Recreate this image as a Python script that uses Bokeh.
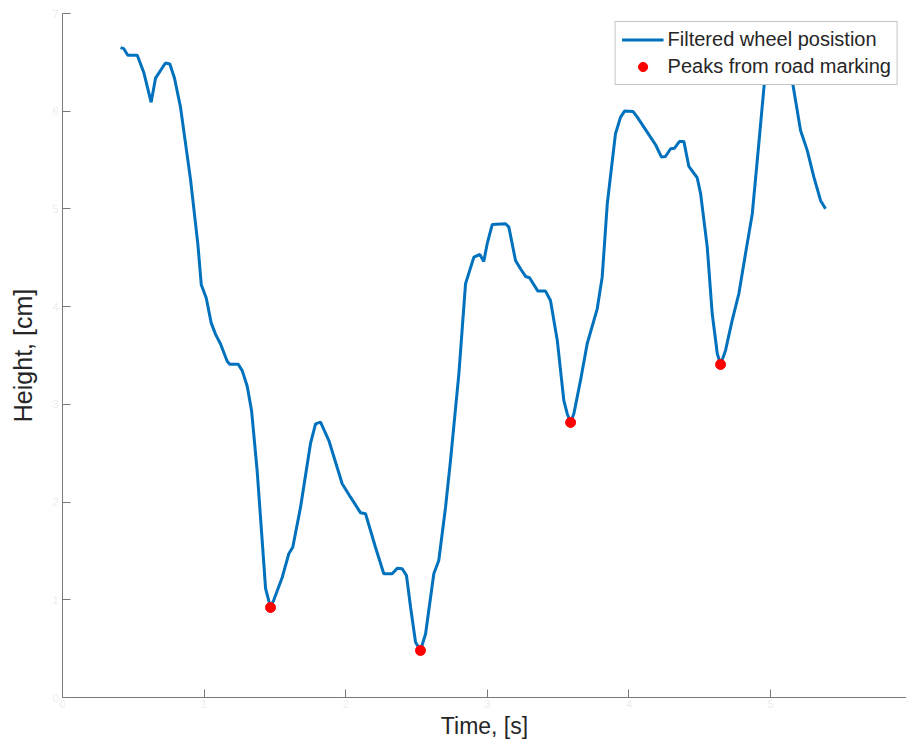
from bokeh.plotting import figure
from bokeh.models import Range1d, FixedTicker, Legend, LegendItem
from bokeh.embed import file_html
from bokeh.resources import INLINE

# Filtered wheel position over time
time_s = [0.410, 0.433, 0.461, 0.528, 0.574, 0.626, 0.657, 0.727, 0.758, 0.791,
          0.833, 0.904, 0.956, 0.980, 1.015, 1.050, 1.081, 1.116, 1.163, 1.181,
          1.241, 1.269, 1.304, 1.335, 1.375, 1.410, 1.434, 1.469, 1.492, 1.552,
          1.598, 1.626, 1.681, 1.751, 1.787, 1.822, 1.881, 1.975, 2.034, 2.105,
          2.140, 2.210, 2.269, 2.328, 2.364, 2.399, 2.429, 2.458, 2.493, 2.528,
          2.564, 2.622, 2.657, 2.705, 2.740, 2.799, 2.846, 2.905, 2.947, 2.975,
          2.999, 3.035, 3.129, 3.152, 3.199, 3.234, 3.270, 3.298, 3.357, 3.411,
          3.446, 3.494, 3.540, 3.564, 3.588, 3.611, 3.658, 3.705, 3.776, 3.811,
          3.847, 3.905, 3.941, 3.969, 4.028, 4.059, 4.129, 4.188, 4.230, 4.258,
          4.294, 4.322, 4.357, 4.388, 4.423, 4.482, 4.506, 4.553, 4.588, 4.624,
          4.647, 4.682, 4.729, 4.776, 4.823, 4.871, 4.917, 4.958, 5.000, 5.056,
          5.113, 5.153, 5.212, 5.259, 5.306, 5.353, 5.388]
height_cm = [6.651, 6.640, 6.573, 6.573, 6.397, 6.091, 6.338, 6.494, 6.483, 6.338,
             6.044, 5.302, 4.637, 4.225, 4.088, 3.834, 3.716, 3.618, 3.442, 3.411,
             3.411, 3.345, 3.188, 2.938, 2.313, 1.607, 1.116, 0.921, 0.997, 1.231,
             1.471, 1.538, 1.948, 2.597, 2.801, 2.818, 2.630, 2.187, 2.050, 1.890,
             1.880, 1.538, 1.266, 1.266, 1.323, 1.317, 1.249, 0.924, 0.566, 0.481,
             0.652, 1.266, 1.402, 1.948, 2.426, 3.313, 4.234, 4.507, 4.534, 4.463,
             4.644, 4.841, 4.848, 4.814, 4.473, 4.388, 4.309, 4.296, 4.159, 4.159,
             4.063, 3.654, 3.040, 2.904, 2.815, 2.904, 3.245, 3.620, 3.978, 4.302,
             5.053, 5.770, 5.940, 6.001, 5.998, 5.940, 5.786, 5.657, 5.530, 5.537,
             5.616, 5.622, 5.691, 5.691, 5.435, 5.319, 5.156, 4.609, 3.927, 3.518,
             3.408, 3.552, 3.859, 4.132, 4.541, 4.951, 5.667, 6.315, 6.622, 6.725,
             6.643, 6.315, 5.803, 5.599, 5.325, 5.087, 5.002]

# Peaks detected from the road marking
peak_time_s = [1.469, 2.528, 3.588, 4.647]
peak_height_cm = [0.921, 0.481, 2.815, 3.408]

x_ticks = [0, 1, 2, 3, 4, 5, 6]
y_ticks = [0, 1, 2, 3, 4, 5, 6, 7]

FONT = "Liberation Sans"
AXIS_GRAY = "#7a7a7a"

p = figure(width=906, height=743, output_backend="svg", toolbar_location=None,
           x_range=Range1d(0, 5.96), y_range=Range1d(0, 7),
           min_border_left=62, min_border_right=0, min_border_top=13,
           min_border_bottom=46)
p.outline_line_color = None
p.xgrid.visible = False
p.ygrid.visible = False
p.background_fill_color = "white"
p.border_fill_color = "white"

line_r = p.line(time_s, height_cm, line_color="#0072BD", line_width=3)
peak_r = p.scatter(peak_time_s, peak_height_cm, size=10, marker="circle",
                   fill_color="#ff0000", line_color="#ff0000")

for ax, ticks in ((p.xaxis, x_ticks), (p.yaxis, y_ticks)):
    ax.ticker = FixedTicker(ticks=ticks)
    ax.axis_line_color = AXIS_GRAY
    ax.major_tick_line_color = AXIS_GRAY
    ax.major_tick_in = 8
    ax.major_tick_out = 0
    ax.minor_tick_line_color = None
    ax.major_label_text_color = "#ededed"
    ax.major_label_text_font = FONT
    ax.major_label_text_font_size = "11px"
    ax.axis_label_text_font = FONT
    ax.axis_label_text_font_style = "normal"
    ax.axis_label_text_color = "#262626"

p.xaxis.axis_label = "Time, [s]"
p.yaxis.axis_label = "Height, [cm]"
p.xaxis.axis_label_text_font_size = "23px"
p.yaxis.axis_label_text_font_size = "25px"
p.xaxis.major_label_standoff = 2
p.xaxis.axis_label_standoff = 2
p.yaxis.major_label_standoff = 4
p.yaxis.axis_label_standoff = 12

legend = Legend(items=[
    LegendItem(label="Filtered wheel posistion", renderers=[line_r]),
    LegendItem(label="Peaks from road marking", renderers=[peak_r]),
], location="top_right")
legend.margin = 8
legend.padding = 6
legend.spacing = 4
legend.glyph_width = 42
legend.glyph_height = 23
legend.label_height = 23
legend.label_width = 200
legend.label_standoff = 4
legend.label_text_font = FONT
legend.label_text_font_size = "20px"
legend.label_text_color = "#262626"
legend.border_line_color = "#8a8a8a"
legend.border_line_width = 1
legend.background_fill_color = "white"
legend.background_fill_alpha = 1.0
p.add_layout(legend)

open("out.html", "w").write(file_html(p, INLINE))
